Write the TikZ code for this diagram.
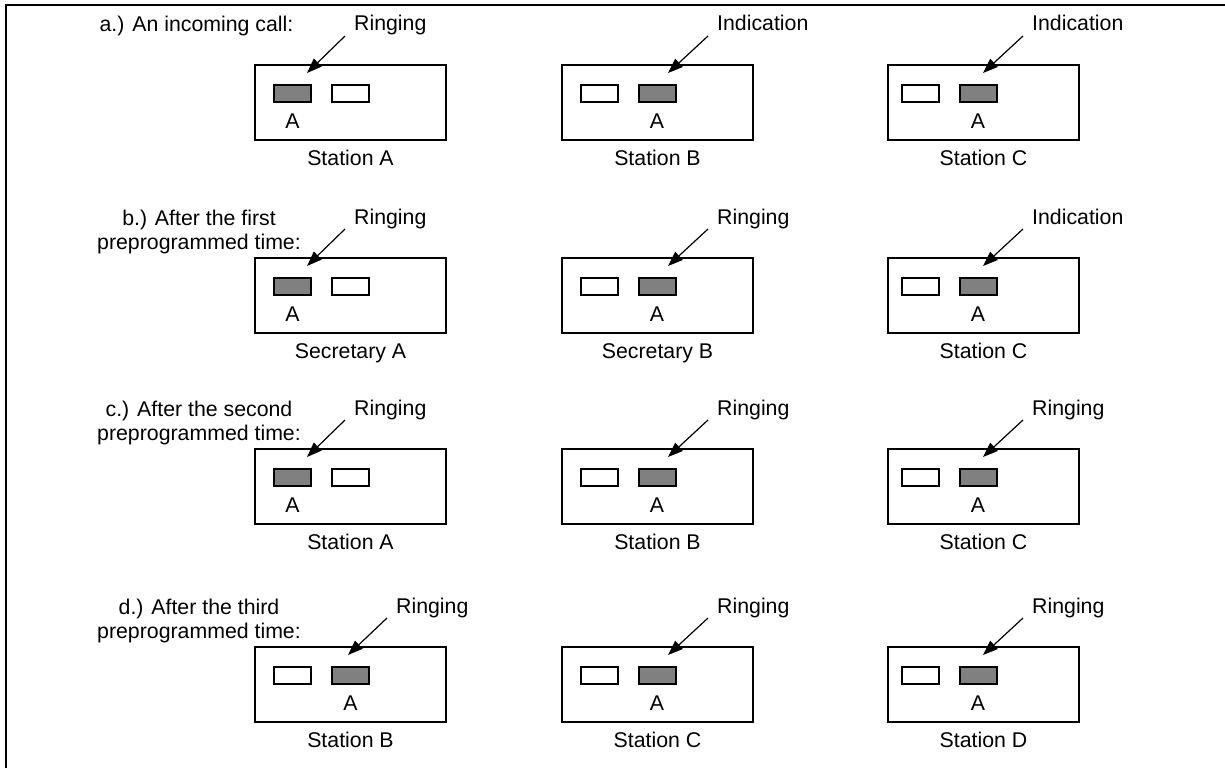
\documentclass[tikz,border=0pt]{standalone}
\usepackage{fontspec}
\setmainfont{Liberation Sans}
\usetikzlibrary{arrows.meta}
\definecolor{btngray}{RGB}{128,128,128}
\newcommand\mytext{\fontsize{21.3}{25}\selectfont}
% #1 id, #2 box left, #3 box top, #4 lit slot (1/2), #5 station name,
% #6 callout label, #7 arrow tip dx, #8 label left dx, #9 slot-1 centre dx
\newcommand\mystation[9]{%
  \node[stbox] (#1) at ({#2+96.5},{#3+38.5}) {};
  \ifnum#4=1
    \node[litbtn] (#1f) at ({#2+#9},{#3+29.5}) {};
    \node[offbtn] (#1e) at ({#2+#9+58},{#3+29.5}) {};
  \else
    \node[offbtn] (#1e) at ({#2+#9},{#3+29.5}) {};
    \node[litbtn] (#1f) at ({#2+#9+58},{#3+29.5}) {};
  \fi
  \node[txt, anchor=base] (#1a) at ({#2+#9+(#4-1)*58},{#3+64.5}) {A};
  \node[txt, anchor=base] (#1n) at ({#2+96.5},{#3+101.6}) {#5};
  \node[txt, anchor=base west] (#1l) at ({#2+#8},{#3-33}) {#6};
  \coordinate (#1s) at ({#2+#8-9},{#3-28});
  \coordinate (#1t) at ({#2+#7},{#3+9});
  \draw[callout] (#1s) -- (#1t);
}
\begin{document}
\begin{tikzpicture}[x=1pt,y=-1pt,
  stbox/.style={draw, line width=2pt, minimum width=191pt, minimum height=75pt, inner sep=0pt},
  btn/.style={draw, line width=2pt, minimum width=37pt, minimum height=17pt, inner sep=0pt},
  litbtn/.style={btn, fill=btngray},
  offbtn/.style={btn, fill=white},
  txt/.style={inner sep=0pt, font=\mytext},
  callout/.style={line width=1.2pt, -{Triangle[length=15pt,width=11pt]}}]
\useasboundingbox (0,0) rectangle (1225,768);
\fill[white] (0,0) rectangle (1225,768);
\draw[line width=2pt] (5.5,768) -- (5.5,5.5) -- (1225,5.5);

% row labels
\node[txt, anchor=base] (la) at (196.5,32) {a.) An incoming call:};
\node[txt, anchor=base] (lb1) at (199,225) {b.) After the first};
\node[txt, anchor=base] (lb2) at (199,249) {preprogrammed time:};
\node[txt, anchor=base] (lc1) at (199,416) {c.) After the second};
\node[txt, anchor=base] (lc2) at (199,440) {preprogrammed time:};
\node[txt, anchor=base] (ld1) at (199,614) {d.) After the third};
\node[txt, anchor=base] (ld2) at (199,638) {preprogrammed time:};

% row a
\mystation{sa1}{254}{64}{1}{Station A}{Ringing}{53}{100}{38.5}
\mystation{sa2}{561}{64}{2}{Station B}{Indication}{107}{156}{38}
\mystation{sa3}{887}{64}{2}{Station C}{Indication}{96}{145}{33}
% row b
\mystation{sb1}{254}{257}{1}{Secretary A}{Ringing}{53}{100}{38.5}
\mystation{sb2}{561}{257}{2}{Secretary B}{Ringing}{107}{156}{38}
\mystation{sb3}{887}{257}{2}{Station C}{Indication}{96}{145}{33}
% row c
\mystation{sc1}{254}{448}{1}{Station A}{Ringing}{53}{100}{38.5}
\mystation{sc2}{561}{448}{2}{Station B}{Ringing}{107}{156}{38}
\mystation{sc3}{887}{448}{2}{Station C}{Ringing}{96}{145}{33}
% row d
\mystation{sd1}{254}{646}{2}{Station B}{Ringing}{94}{142}{38.5}
\mystation{sd2}{561}{646}{2}{Station C}{Ringing}{107}{156}{38}
\mystation{sd3}{887}{646}{2}{Station D}{Ringing}{96}{145}{33}
\end{tikzpicture}
\end{document}
